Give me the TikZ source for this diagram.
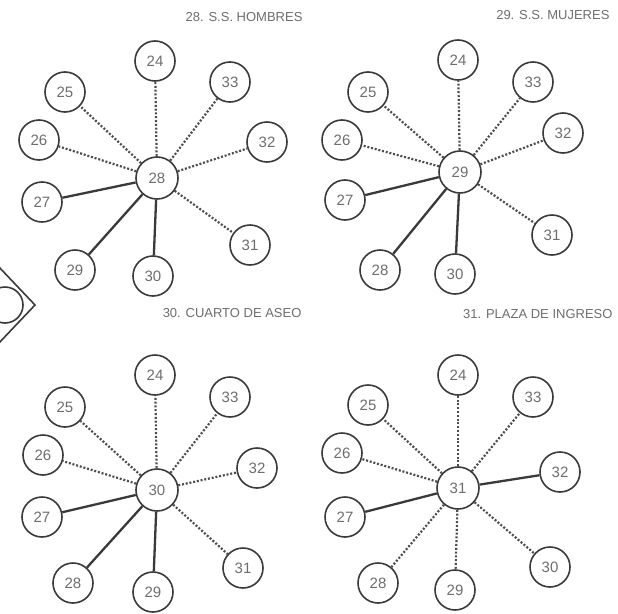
\documentclass[tikz,border=0pt]{standalone}
\usepackage{fontspec}
\setmainfont{Liberation Sans}
\definecolor{ink}{HTML}{3A3A3A}
\definecolor{pencil}{HTML}{6E6E6E}
\begin{document}
\begin{tikzpicture}[x=1pt,y=-1pt,
  room/.style={circle,draw=ink,line width=1.6pt,fill=white,minimum size=40pt,inner sep=0pt,
    font=\fontsize{15}{15}\selectfont,text=pencil},
  hub/.style={room,minimum size=42pt},
  near/.style={draw=ink,line width=2.3pt},
  far/.style={draw=ink!90,line width=2.2pt,dash pattern=on 2pt off 1.8pt},
  heading/.style={anchor=east,text=pencil,font=\fontsize{13}{13}\selectfont}]
\useasboundingbox (0,0) rectangle (618,613);
\clip (0,0) rectangle (618,613);
\fill[white] (0,0) rectangle (618,613);

% partial plan symbol at the left margin
\draw[ink,line width=1.6pt] (-2,266) -- (35,305) -- (-2,344);
\draw[ink,line width=1.6pt] (5,305) circle (18);

% ---- 28. S.S. HOMBRES ----
\node[heading] (t1) at (306,17) {28. S.S. HOMBRES};
\node[hub]  (a28) at (157,178) {28};
\node[room] (a24) at (155,61) {24};
\node[room] (a33) at (230,82) {33};
\node[room] (a25) at (65,92) {25};
\node[room] (a32) at (267,142) {32};
\node[room] (a26) at (39,140) {26};
\node[room] (a27) at (42,202) {27};
\node[room] (a31) at (250,245) {31};
\node[room] (a29) at (75,270) {29};
\node[room] (a30) at (153,276) {30};
\foreach \n in {24,33,25,32,26,31} \draw[far] (a28) -- (a\n);
\foreach \n in {27,29,30} \draw[near] (a28) -- (a\n);

% ---- 29. S.S. MUJERES ----
\node[heading] (t2) at (613,15) {29. S.S. MUJERES};
\node[hub]  (b29) at (460,172) {29};
\node[room] (b24) at (458,60) {24};
\node[room] (b33) at (533,82) {33};
\node[room] (b25) at (368,92) {25};
\node[room] (b32) at (563,133) {32};
\node[room] (b26) at (342,140) {26};
\node[room] (b27) at (345,200) {27};
\node[room] (b31) at (552,235) {31};
\node[room] (b28) at (380,270) {28};
\node[room] (b30) at (455,274) {30};
\foreach \n in {24,33,25,32,26,31} \draw[far] (b29) -- (b\n);
\foreach \n in {27,28,30} \draw[near] (b29) -- (b\n);

% ---- 30. CUARTO DE ASEO ----
\node[heading] (t3) at (305,313) {30. CUARTO DE ASEO};
\node[hub]  (c30) at (157,490) {30};
\node[room] (c24) at (155,375) {24};
\node[room] (c33) at (230,397) {33};
\node[room] (c25) at (65,407) {25};
\node[room] (c32) at (257,468) {32};
\node[room] (c26) at (43,455) {26};
\node[room] (c27) at (42,517) {27};
\node[room] (c31) at (243,568) {31};
\node[room] (c28) at (73,583) {28};
\node[room] (c29) at (153,592) {29};
\foreach \n in {24,33,25,32,26,31} \draw[far] (c30) -- (c\n);
\foreach \n in {27,28,29} \draw[near] (c30) -- (c\n);

% ---- 31. PLAZA DE INGRESO ----
\node[heading] (t4) at (616,314) {31. PLAZA DE INGRESO};
\node[hub]  (d31) at (458,488) {31};
\node[room] (d24) at (458,375) {24};
\node[room] (d33) at (533,397) {33};
\node[room] (d25) at (368,405) {25};
\node[room] (d32) at (560,472) {32};
\node[room] (d26) at (342,453) {26};
\node[room] (d27) at (345,517) {27};
\node[room] (d30) at (550,567) {30};
\node[room] (d28) at (378,583) {28};
\node[room] (d29) at (455,590) {29};
\foreach \n in {24,33,25,26,28,29,30} \draw[far] (d31) -- (d\n);
\foreach \n in {32,27} \draw[near] (d31) -- (d\n);
\end{tikzpicture}
\end{document}
